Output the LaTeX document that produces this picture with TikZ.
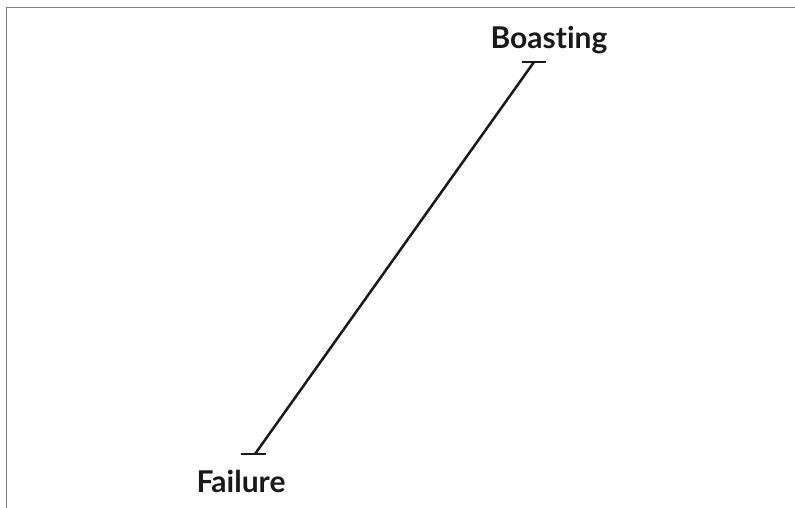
\documentclass[tikz,border=0pt]{standalone}
\usepackage{fontspec}
\setmainfont{Lato}[Ligatures={NoCommon,NoRare}]
\begin{document}
\begin{tikzpicture}[x=1pt,y=-1pt,
  lbl/.style={font=\bfseries\fontsize{30}{34}\selectfont, text=black!90, inner sep=0pt},
  bar/.style={line width=2.5pt, black!90},
  frame/.style={line width=1.6pt, black!50}]
\useasboundingbox (0,0) rectangle (795,508);
\draw[frame] (6.5,508) -- (6.5,7.5) -- (795,7.5);
\coordinate (top) at (534,62);
\coordinate (bot) at (255,454);
\draw[bar] (bot) -- (top);
\draw[bar] ([xshift=-12pt]top) -- ([xshift=12pt]top);
\draw[bar] ([xshift=-14pt]bot) -- ([xshift=11pt]bot);
\node[lbl] (boast) at (549,40) {Boasting};
\node[lbl] (fail) at (241,481) {Failure};
\end{tikzpicture}
\end{document}
